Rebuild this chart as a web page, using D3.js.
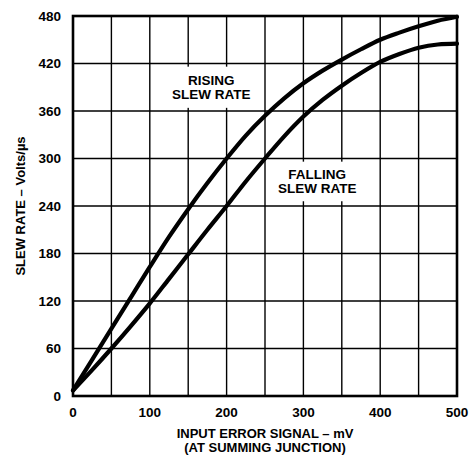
<!DOCTYPE html>
<style>
body { margin: 0; background: #fff; }
text { font-family: "Liberation Sans", Arial, sans-serif; font-weight: bold; fill: #000; }
</style>
<svg width="471" height="455"></svg>
<script src="https://d3js.org/d3.v7.min.js"></script>
<script>

var inputMv = [0, 25, 50, 75, 100, 125, 150, 175, 200, 225, 250, 275, 300, 325, 350, 375, 400, 425, 450, 475, 500];
var rising  = [7, 46, 85, 124, 163, 201, 236, 269, 300, 329, 354, 376, 395, 411, 425, 438, 450, 459, 467, 474, 479];
var falling = [7, 33, 60, 88, 117, 148, 179, 210, 240, 271, 300, 328, 353, 374, 392, 408, 422, 432, 440, 444, 445];
var xTicks = [0, 100, 200, 300, 400, 500];
var yTicks = [0, 60, 120, 180, 240, 300, 360, 420, 480];

var svg = d3.select("svg"),
    margin = {top: 16, right: 14, bottom: 59, left: 73},
    width = +svg.attr("width") - margin.left - margin.right,
    height = +svg.attr("height") - margin.top - margin.bottom,
    g = svg.append("g").attr("transform", "translate(" + margin.left + "," + margin.top + ")");

var x = d3.scaleLinear().domain([0, 500]).range([0, width]);
var y = d3.scaleLinear().domain([0, 480]).range([height, 0]);

// grid, every 50 mV and every 60 V/us
g.append("g")
  .selectAll("line")
  .data(d3.range(50, 500, 50))
  .enter().append("line")
    .attr("x1", function(d) { return x(d); })
    .attr("x2", function(d) { return x(d); })
    .attr("y1", 0)
    .attr("y2", height)
    .attr("stroke", "#000")
    .attr("stroke-width", 1.4);

g.append("g")
  .selectAll("line")
  .data(yTicks.slice(1, -1))
  .enter().append("line")
    .attr("x1", 0)
    .attr("x2", width)
    .attr("y1", function(d) { return y(d); })
    .attr("y2", function(d) { return y(d); })
    .attr("stroke", "#000")
    .attr("stroke-width", 1.4);

// white patches behind the curve labels
g.append("rect")
    .attr("x", x(106)).attr("y", y(416))
    .attr("width", x(245) - x(106)).attr("height", y(364) - y(416))
    .attr("fill", "#fff");
g.append("rect")
    .attr("x", x(257)).attr("y", y(296))
    .attr("width", x(389) - x(257)).attr("height", y(246) - y(296))
    .attr("fill", "#fff");

g.append("rect")
    .attr("width", width)
    .attr("height", height)
    .attr("fill", "none")
    .attr("stroke", "#000")
    .attr("stroke-width", 2.6);

var line = function(vals) {
  return d3.line()
    .x(function(d, i) { return x(inputMv[i]); })
    .y(function(d) { return y(d); })
    .curve(d3.curveMonotoneX)(vals);
};

g.selectAll("path.curve")
  .data([rising, falling])
  .enter().append("path")
    .attr("class", "curve")
    .attr("d", line)
    .attr("fill", "none")
    .attr("stroke", "#000")
    .attr("stroke-width", 4.2)
    .attr("stroke-linecap", "round");

// tick labels
g.append("g")
  .attr("font-size", 13.5)
  .attr("text-anchor", "middle")
  .selectAll("text")
  .data(xTicks)
  .enter().append("text")
    .attr("x", function(d) { return x(d); })
    .attr("y", height + 21)
    .text(function(d) { return d; });

g.append("g")
  .attr("font-size", 13.5)
  .attr("text-anchor", "end")
  .selectAll("text")
  .data(yTicks)
  .enter().append("text")
    .attr("x", -12)
    .attr("y", function(d) { return y(d); })
    .attr("dy", "0.36em")
    .text(function(d) { return d; });

// curve labels
var labels = g.append("g").attr("font-size", 13.5).attr("text-anchor", "middle");
labels.append("text").attr("x", x(180)).attr("y", y(393)).text("RISING");
labels.append("text").attr("x", x(180)).attr("y", y(375)).text("SLEW RATE");
labels.append("text").attr("x", x(318)).attr("y", y(274)).text("FALLING");
labels.append("text").attr("x", x(318)).attr("y", y(256)).text("SLEW RATE");

// axis titles
g.append("text")
    .attr("font-size", 13)
    .attr("text-anchor", "middle")
    .attr("x", width / 2)
    .attr("y", height + 41.5)
    .text("INPUT ERROR SIGNAL \u2013 mV");
g.append("text")
    .attr("font-size", 13)
    .attr("text-anchor", "middle")
    .attr("x", width / 2)
    .attr("y", height + 56)
    .text("(AT SUMMING JUNCTION)");

g.append("text")
    .attr("font-size", 13)
    .attr("text-anchor", "middle")
    .attr("transform", "translate(" + (-48) + "," + (height / 2) + ") rotate(-90)")
    .text("SLEW RATE \u2013 Volts/\u00b5s");

</script>
